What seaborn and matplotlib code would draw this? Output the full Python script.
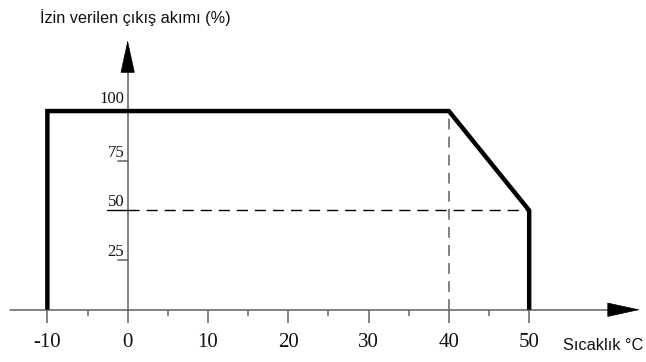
import numpy as np
import pandas as pd
import seaborn as sb
import matplotlib.pyplot as plt

# derating curve: allowed output current vs ambient temperature
temp = [-10, -10, 40, 50, 50]
current = [0, 100, 100, 50, 0]
xMajor = [-10, 0, 10, 20, 30, 40, 50]
xMinor = [-5, 5, 15, 25, 35, 45]
yTicks = [25, 50, 75, 100]
labelY = 'İzin verilen çıkış akımı (%)'
labelX = 'Sıcaklık °C'

sb.set_theme(style='white')
plt.rcParams['font.family'] = ['Liberation Sans', 'DejaVu Sans']

fig = plt.figure(figsize=(6.46, 3.62), dpi=100)
ax = fig.add_axes([0, 0, 1, 1])

axisCol = '#606060'
serif = 'Liberation Serif'

# axis lines + arrow heads
ax.plot([-14.7, 61], [0, 0], c=axisCol, lw=1.1)
ax.plot([0, 0], [0, 126], c=axisCol, lw=1.1)
arrow = dict(arrowstyle='-|>,head_length=22,head_width=4.8', mutation_scale=1,
             color='black', lw=0.5, shrinkA=0, shrinkB=0)
ax.annotate('', xy=(63.8, 0), xytext=(60.5, 0), arrowprops=arrow)
ax.annotate('', xy=(0, 135.7), xytext=(0, 126), arrowprops=arrow)

# x ticks
ax.vlines(xMajor, -6.6, 0, colors=axisCol, lw=1.1)
ax.vlines(xMinor, -3.0, 0, colors=axisCol, lw=1.1)
for v in xMajor:
    ax.text(v, -18.6, str(v), ha='center', va='baseline', fontsize=15,
            family=serif, color='#111111')

# y ticks
for v in yTicks:
    if v in (25, 75):
        ax.plot([-1.2, 0], [v, v], c=axisCol, lw=1.1)
    off = 4 if v == 100 else 2
    ax.text(-0.42, v + off, str(v), ha='right', va='baseline', fontsize=12,
            family=serif, color='#111111')

# guide lines
ax.plot([-2.55, 0], [50, 50], c='black', lw=1.0)
ax.plot([0, 50], [50, 50], c='black', lw=1.0, ls=(0, (8, 5)))
ax.plot([40, 40], [0, 100], c='#777777', lw=1.3, ls=(0, (6, 4)))

# derating curve
df = pd.DataFrame({'temp': temp, 'current': current})
sb.lineplot(data=df, x='temp', y='current', sort=False, estimator=None,
            ax=ax, color='black', lw=3.2, solid_joinstyle='miter',
            solid_capstyle='butt')
ax.set_xlim(-15.9, 64.55)
ax.set_ylim(-26.3, 155.9)
ax.axis('off')

ax.text(-10.9, 144.1, labelY, ha='left', va='baseline', fontsize=11.7,
        color='#111111')
ax.text(54.2, -20.2, labelX, ha='left', va='baseline', fontsize=11.7,
        color='#111111')

fig.savefig('out.png', dpi=100)
